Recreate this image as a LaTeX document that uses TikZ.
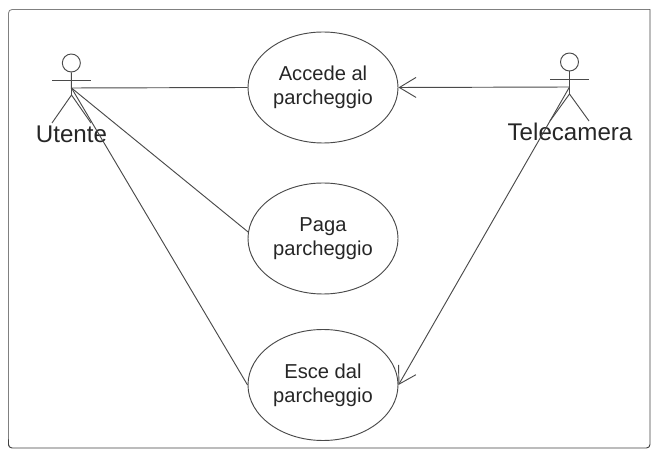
\documentclass[tikz,border=0pt]{standalone}
\usepackage{fontspec}
\setmainfont{Liberation Sans}
\usetikzlibrary{shapes.geometric,arrows.meta}
\definecolor{linegray}{HTML}{4A4A4A}
\tikzset{
  usecase/.style={shape=ellipse,draw=linegray,line width=0.8pt,minimum width=4.5cm,minimum height=3.33cm,inner sep=0pt,align=center,font=\fontsize{17.2}{20.7}\selectfont,text=black!85},
  actorhead/.style={shape=circle,draw=linegray,line width=0.8pt,minimum size=0.54cm,inner sep=0pt},
  actorlabel/.style={anchor=base,inner sep=0pt,font=\fontsize{20.6}{24}\selectfont,text=black!85},
  wire/.style={draw=linegray,line width=0.8pt},
  barb/.style={-{Straight Barb[length=0.5cm,width=0.6cm,line width=0.8pt]}}
}
\begin{document}
\begin{tikzpicture}
  \useasboundingbox (0,0) rectangle (19.86,13.68);
  % frame, lighter on top and left
  \draw[draw=black!50,line width=0.7pt,rounded corners=3pt] (0.255,0.3) |- (19.5,13.395);
  \draw[draw=black!75,line width=0.8pt,rounded corners=3pt] (0.255,0.5) |- (19.5,0.24) -- (19.5,13.395);
  % use cases
  \node[usecase] (accede) at (9.69,11.055) {Accede al\\parcheggio};
  \node[usecase] (paga) at (9.69,6.525) {Paga\\parcheggio};
  \node[usecase] (esce) at (9.69,2.13) {Esce dal\\parcheggio};
  % actor on the left
  \node[actorhead] (uhead) at (2.14,11.79) {};
  \coordinate (uhip) at (2.145,10.83);
  \coordinate (ujoin) at (2.145,11.04);
  \coordinate (uarml) at (1.56,11.28);
  \coordinate (uarmr) at (2.73,11.28);
  \coordinate (ufootl) at (1.56,9.99);
  \coordinate (ufootr) at (2.73,9.99);
  \node[actorlabel] (utente) at (2.145,9.39) {Utente};
  \path[wire] (uhead) -- (uhip);
  \path[wire] (uarml) -- (uarmr);
  \path[wire] (ufootl) -- (uhip) -- (ufootr);
  % actor on the right
  \node[actorhead] (thead) at (17.085,11.82) {};
  \coordinate (thip) at (17.085,10.86);
  \coordinate (tjoin) at (17.085,11.07);
  \coordinate (tarml) at (16.5,11.31);
  \coordinate (tarmr) at (17.67,11.31);
  \coordinate (tfootl) at (16.5,10.05);
  \coordinate (tfootr) at (17.67,10.05);
  \node[actorlabel] (telecamera) at (17.1,9.45) {Telecamera};
  \path[wire] (thead) -- (thip);
  \path[wire] (tarml) -- (tarmr);
  \path[wire] (tfootl) -- (thip) -- (tfootr);
  % connectors
  \path[wire] (ujoin) -- (accede.west);
  \path[wire] (ujoin) -- (paga.175);
  \path[wire] (ujoin) -- (esce.west);
  \path[wire,barb] (tjoin) -- (accede.east);
  \path[wire,barb] (tjoin) -- (esce.east);
\end{tikzpicture}
\end{document}
